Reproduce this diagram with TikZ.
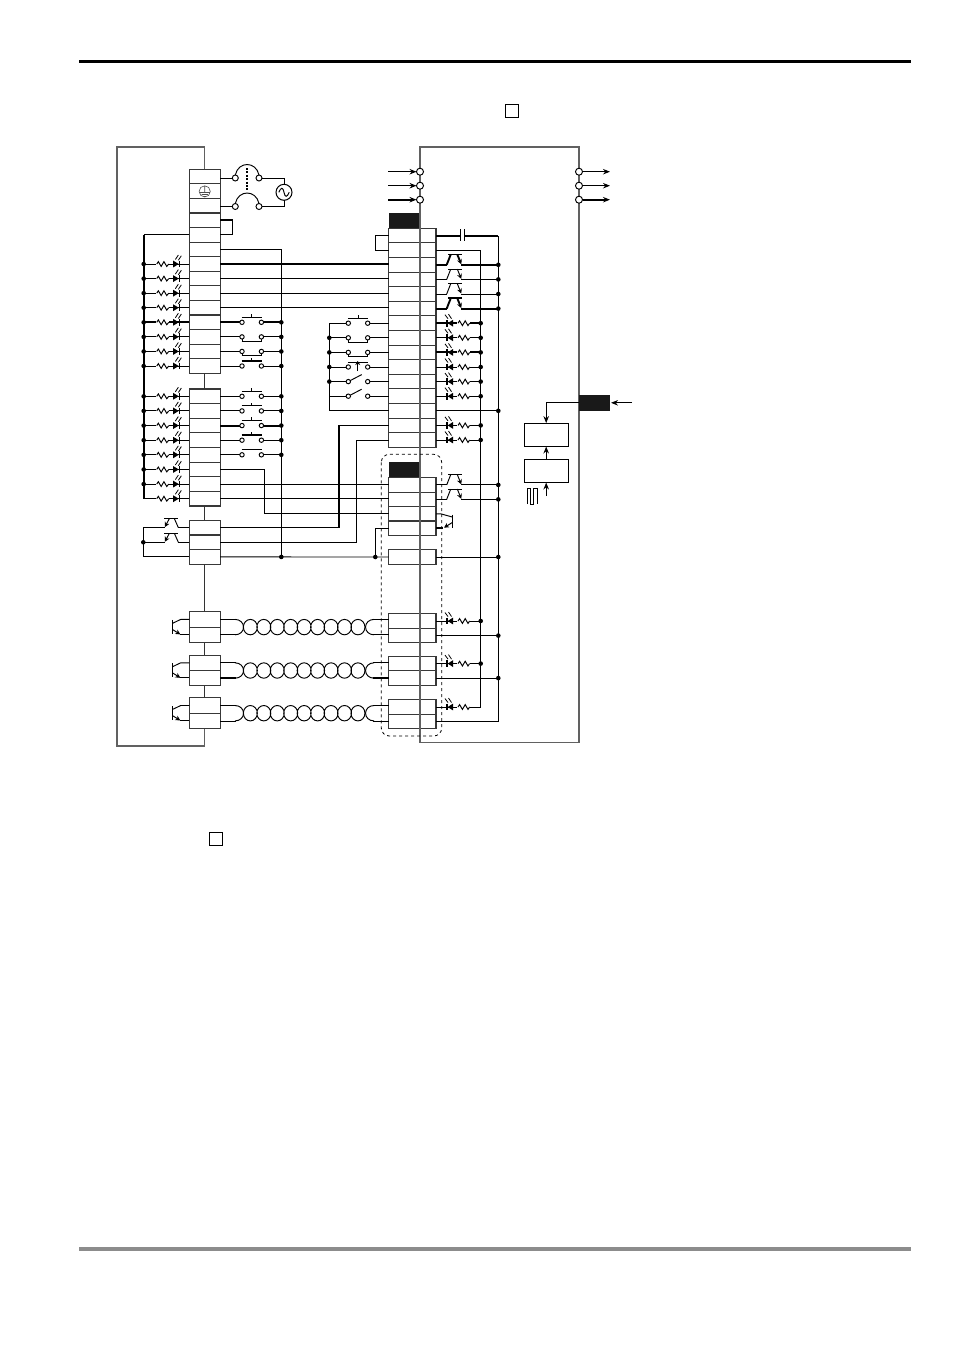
\documentclass[tikz,border=0pt]{standalone}
\usetikzlibrary{arrows.meta}

\tikzset{
  cell/.style={draw=black!78,line width=1.1pt,minimum width=30.7pt,minimum height=14.6pt,inner sep=0pt,outer sep=0pt},
  rcell/.style={cell,minimum width=47.3pt},
  bcell/.style={cell,minimum height=15.4pt},
  head/.style={draw=black!90,fill=black!90,minimum width=31.3pt,minimum height=15.2pt,inner sep=0pt,outer sep=0pt},
  panel/.style={draw=black,line width=1pt,minimum width=44.3pt,minimum height=23.4pt,inner sep=0pt,outer sep=0pt},
  dot/.style={circle,fill=black,minimum size=4.6pt,inner sep=0pt,outer sep=0pt},
  port/.style={circle,draw=black,fill=white,line width=.95pt,minimum size=7pt,inner sep=0pt,outer sep=0pt},
  chk/.style={draw=black,line width=.95pt,minimum size=13pt,inner sep=0pt},
  wire/.style={line width=.95pt},
  bar/.style={line width=1.9pt},
  housing/.style={draw=black!62,line width=1.5pt},
  minitip/.style={-{Stealth[length=5pt,width=5pt]}},
  ledl/.pic={
    \fill[white] (-33,-1.5) rectangle (-20,1.5);
    \draw (-32.6,0) -- (-31,-2.4) -- (-28.2,2.4) -- (-25.4,-2.4) -- (-22.6,2.4) -- (-20.6,0);
    \fill (-16.2,-3.4) -- (-16.2,3.4) -- (-10.6,0) -- cycle;
    \draw[line width=1.6pt] (-10,-3.4) -- (-10,3.4);
    \draw[line width=.8pt] (-14,-4.5) -- (-11,-9) (-11,-3.8) -- (-8,-8.3);
  },
  ledr/.pic={
    \fill[white] (21,-1.5) rectangle (34,1.5);
    \draw (22,0) -- (23.6,-2.4) -- (26.4,2.4) -- (29.2,-2.4) -- (32,2.4) -- (33.6,0);
    \fill (17,-3.4) -- (17,3.4) -- (11.7,0) -- cycle;
    \draw[line width=1.6pt] (11.2,-3.4) -- (11.2,3.4);
    \draw[line width=.8pt] (9,-8.5) -- (12,-4.5) (12.5,-9) -- (15.5,-4.5);
  },
  optr/.pic={
    \fill[white] (11,-1.2) rectangle (25,1.2);
    \draw (10.7,0) -- (14.7,-10.2);
    \draw (12,-10.3) -- (26.3,-10.3);
    \draw[minitip] (21.3,-10.3) -- (25.3,-.5);
  },
  optl/.pic={
    \fill[white] (-24.5,-1.2) rectangle (-11,1.2);
    \draw (-25.3,-9) -- (-11.3,-9);
    \draw (-15,-9) -- (-11,0);
    \draw[minitip] (-20,-9) -- (-24.5,-.5);
  },
  txl/.pic={
    \draw (0,0) -- (-8.6,0) -- (-17,4);
    \draw (-17,.5) -- (-17,14.5);
    \draw[minitip] (-17,10) -- (-9,15);
    \draw (-9,15) -- (0,15);
  },
  cno/.pic={
    \fill[white] (0,-1.2) rectangle (19.5,1.2);
    \draw (-.5,-5) -- (20,-5) (9.7,-5) -- (9.7,-8.4);
    \draw[wire,fill=white] (0,0) circle (2.2) (19.4,0) circle (2.2);
  },
  cnb/.pic={
    \fill[white] (0,-1.2) rectangle (19.5,1.2);
    \draw (-.5,-5) -- (20,-5);
    \draw[wire,fill=white] (0,0) circle (2.2) (19.4,0) circle (2.2);
  },
  cnc/.pic={
    \fill[white] (0,-1.2) rectangle (19.5,1.2);
    \draw (-.5,4.2) -- (20,4.2);
    \draw[wire] (0,0) -- (0,4.2) (19.4,0) -- (19.4,4.2);
    \draw[wire,fill=white] (0,0) circle (2.2) (19.4,0) circle (2.2);
  },
  copen/.pic={
    \fill[white] (0,-1.2) rectangle (19.5,1.2);
    \draw (0,0) -- (13.4,-7);
    \draw[wire,fill=white] (0,0) circle (2.2) (19.4,0) circle (2.2);
  },
  coil/.pic={
    \fill[white] (16,-1.4) rectangle (153,16.8);
    \draw (15,0) .. controls (20,0) and (23.5,3.5) .. (23.5,7.7) .. controls (23.5,11.9) and (20,15.4) .. (15,15.4);
    \draw (154,0) .. controls (149,0) and (145.5,3.5) .. (145.5,7.7) .. controls (145.5,11.9) and (149,15.4) .. (154,15.4);
    \draw (30.3,7.7) ellipse (7 and 7.7) (43.75,7.7) ellipse (7 and 7.7) (57.2,7.7) ellipse (7 and 7.7)
      (70.65,7.7) ellipse (7 and 7.7) (84.1,7.7) ellipse (7 and 7.7) (97.55,7.7) ellipse (7 and 7.7)
      (111,7.7) ellipse (7 and 7.7) (124.45,7.7) ellipse (7 and 7.7) (137.9,7.7) ellipse (7 and 7.7);
  }
}

% one wire from a cell to a bus line, ending in a dot
\newcommand{\tape}[3][]{\draw[wire,#1] (#2.east) -- (#2.east -| #3) node (#2d) [dot] {};}
\newcommand{\tapw}[3][]{\draw[wire,#1] (#2.west) -- (#2.west -| #3) node (#2d) [dot] {};}
\newcommand{\lledrow}[2][]{\tapw[#1]{#2}{bl} \path (#2.west) pic[wire] {ledl};}
\newcommand{\rledrow}[2][]{\tape[#1]{#2}{ct} \path (#2.east) pic[wire] {ledr};}
\newcommand{\rtxrow}[2][]{\tape[#1]{#2}{cm} \path (#2.east) pic[wire,#1] {optr};}

\begin{document}
\begin{tikzpicture}[x=1pt,y=-1pt,>={Stealth[length=7pt,width=5.5pt]}]
\useasboundingbox (0,0) rectangle (954,1350);

\draw[line width=3pt] (79,61) -- (911,61);
\draw[black!45,line width=4pt] (79,1248.5) -- (911,1248.5);
\node (chka) [chk] at (512,111) {};
\node (chkb) [chk] at (216,839) {};

% bus positions
\coordinate (bl) at (143.7,0);
\coordinate (tb) at (143.3,0);
\coordinate (comm) at (281.3,0);
\coordinate (kl) at (242,0);
\coordinate (sw) at (329.3,0);
\coordinate (kr) at (348.3,0);
\coordinate (ja) at (339,0);
\coordinate (jb) at (356.3,0);
\coordinate (ct) at (480.7,0);
\coordinate (cm) at (498.3,0);

% left terminal blocks
\path (204.7,176.6)
    node (la1) [cell] {} ++(0,14.57)
    node (la2) [cell] {} ++(0,14.57)
    node (la3) [cell] {} ++(0,14.57)
    node (la4) [cell] {} ++(0,14.57)
    node (la5) [cell] {} ++(0,14.57)
    node (la6) [cell] {} ++(0,14.57)
    node (la7) [cell] {} ++(0,14.57)
    node (la8) [cell] {} ++(0,14.57)
    node (la9) [cell] {} ++(0,14.57)
    node (la10) [cell] {} ++(0,14.57)
    node (la11) [cell] {} ++(0,14.57)
    node (la12) [cell] {} ++(0,14.57)
    node (la13) [cell] {} ++(0,14.57)
    node (la14) [cell] {};
\path (204.7,396.3)
    node (lb1) [cell] {} ++(0,14.63)
    node (lb2) [cell] {} ++(0,14.63)
    node (lb3) [cell] {} ++(0,14.63)
    node (lb4) [cell] {} ++(0,14.63)
    node (lb5) [cell] {} ++(0,14.63)
    node (lb6) [cell] {} ++(0,14.63)
    node (lb7) [cell] {} ++(0,14.63)
    node (lb8) [cell] {};
\path (204.7,527.6)
    node (lc1) [cell] {} ++(0,14.67)
    node (lc2) [cell] {} ++(0,14.67)
    node (lc3) [cell] {};
\path (204.7,619.4) node (lm1) [bcell] {} ++(0,15.4) node (lm2) [bcell] {};
\path (204.7,662.8) node (ln1) [bcell] {} ++(0,15.2) node (ln2) [bcell] {};
\path (204.7,705.5) node (lp1) [bcell] {} ++(0,15.5) node (lp2) [bcell] {};

% right terminal blocks
\node (rh) [head] at (404.35,220.8) {};
\path (412.35,235.6)
    node (ra1) [rcell] {} ++(0,14.6)
    node (ra2) [rcell] {} ++(0,14.6)
    node (ra3) [rcell] {} ++(0,14.6)
    node (ra4) [rcell] {} ++(0,14.6)
    node (ra5) [rcell] {} ++(0,14.6)
    node (ra6) [rcell] {} ++(0,14.6)
    node (ra7) [rcell] {} ++(0,14.6)
    node (ra8) [rcell] {} ++(0,14.6)
    node (ra9) [rcell] {} ++(0,14.6)
    node (ra10) [rcell] {} ++(0,14.6)
    node (ra11) [rcell] {} ++(0,14.6)
    node (ra12) [rcell] {} ++(0,14.6)
    node (ra13) [rcell] {} ++(0,14.6)
    node (ra14) [rcell] {} ++(0,14.6)
    node (ra15) [rcell] {};
\node (rgh) [head] at (404.35,470) {};
\path (412.35,484.9)
    node (rg1) [rcell] {} ++(0,14.45)
    node (rg2) [rcell] {} ++(0,14.45)
    node (rg3) [rcell] {} ++(0,14.45)
    node (rg4) [rcell] {};
\node (rk) [rcell] at (412.35,557) {};
\path (412.35,621) node (rm1) [rcell] {} ++(0,14.6) node (rm2) [rcell] {};
\path (412.35,663.6) node (rn1) [rcell] {} ++(0,14.5) node (rn2) [rcell] {};
\path (412.35,707) node (rp1) [rcell] {} ++(0,14.6) node (rp2) [rcell] {};

% housings and the links between blocks
\draw[housing] (la1.north) |- (117,147) -- (117,746) -| (lp2.south);
\draw[housing] (420,742.3) rectangle (579,147);
\draw[wire,black!80] (la14.south) -- (lb1.north);
\draw[wire,black!80] (lb8.south) -- (lc1.north);
\draw[wire,black!80] (lc3.south) -- (lm1.north);
\draw[wire,black!80] (lm2.south) -- (ln1.north);
\draw[wire,black!80] (ln2.south) -- (lp1.north);
\draw[dashed,line width=.8pt,rounded corners=8pt] (381.3,454.3) rectangle (441.7,736);

% mains
\node (bra) [port,minimum size=6pt] at (235.3,178) {};
\node (brb) [port,minimum size=6pt] at (259,178) {};
\node (brc) [port,minimum size=6pt] at (235.3,206.5) {};
\node (brd) [port,minimum size=6pt] at (259,206.5) {};
\node (acs) [circle,draw,line width=1pt,minimum size=16pt,inner sep=0pt,outer sep=0pt] at (284,192.3) {};
\draw[wire] (bra -| la1.east) -- (bra);
\draw[wire] (brc -| la3.east) -- (brc);
\draw[wire] (bra.north) .. controls +(3,-14) and +(-3,-14) .. (brb.north);
\draw[wire] (brc.north) .. controls +(3,-14) and +(-3,-14) .. (brd.north);
\draw[wire] (brb) -| (acs.north);
\draw[wire] (brd) -| (acs.south);
\draw[line width=1.5pt,dash pattern=on 2pt off 1.4pt] (247,168) -- (247,191);
\draw[wire] (278.8,192.3) .. controls (281,187) and (283,187) .. (284,192.3) .. controls (285,197.6) and (287,197.6) .. (289.2,192.3);
\draw[black!70,line width=.6pt] (204.7,191.4) circle (5.6) (204.7,186) -- (204.7,192.5)
    (199.5,192.5) -- (209.9,192.5) (201.5,194.5) -- (207.9,194.5) (203.3,196.3) -- (206.1,196.3);
\draw[bar] (la4.east) -- ++(12.6,0);
\draw[wire] (la4.east) ++(12.6,0) |- (la5.east);
\draw[wire] (ra1.west) -- ++(-13,0) |- (ra2.west);

% left LED rows and their common bar
\draw[wire] (la5.west) -- (la5.west -| bl);
\draw[bar] (la5.west -| bl) -- (lb8.west -| bl);
\lledrow{la7}
\lledrow{la8}
\lledrow{la9}
\lledrow{la10}
\lledrow[bar]{la11}
\lledrow{la12}
\lledrow{la13}
\lledrow{la14}
\lledrow{lb1}
\lledrow{lb2}
\lledrow{lb3}
\lledrow{lb4}
\lledrow{lb5}
\lledrow{lb6}
\lledrow{lb7}
\draw[wire] (lb8.west) -- (lb8.west -| bl);
\path (lb8.west) pic[wire] {ledl};

% left output transistors
\draw[wire] (lc1.west) -| (lc3.west -| tb) -- (lc3.west);
\draw[wire] (lc2.west) -- (lc2.west -| tb) node (ltd) [dot] {};
\path (lc1.west) pic[wire] {optl};
\path (lc2.west) pic[wire] {optl};

% push buttons to the common line
\draw[wire] (la6.east) -| (lc3.east -| comm) node (lcd) [dot] {};
\tape[bar]{la11}{comm}
\tape{la12}{comm}
\tape{la13}{comm}
\tape{la14}{comm}
\tape{lb1}{comm}
\tape{lb2}{comm}
\tape[bar]{lb3}{comm}
\tape{lb4}{comm}
\tape{lb5}{comm}
\path (la11.east -| kl) pic[line width=1.3pt] {cno};
\path (la12.east -| kl) pic[wire] {cnc};
\path (la13.east -| kl) pic[wire] {cnc};
\path (la14.east -| kl) pic[line width=1.3pt] {cno};
\path (lb1.east -| kl) pic[wire] {cno};
\path (lb2.east -| kl) pic[wire] {cno};
\path (lb3.east -| kl) pic[line width=1.5pt] {cno};
\path (lb4.east -| kl) pic[line width=1.5pt] {cno};
\path (lb5.east -| kl) pic[wire] {cnb};

% wires across
\draw[bar] (la7.east) -- (la7.east -| ra3.west);
\draw[wire] (la8.east) -- (la8.east -| ra4.west);
\draw[wire] (la9.east) -- (la9.east -| ra5.west);
\draw[wire] (la10.east) -- (la10.east -| ra6.west);
\draw[bar] (lb6.east) -- ++(44.6,0);
\draw[wire] (lb6.east) ++(44.6,0) |- (rg3.west);
\draw[wire] (lb7.east) -- (lb7.east -| rg1.west);
\draw[wire] (lb8.east) -- (lb8.east -| rg2.west);
\draw[wire] (lc1.east) -- (lc1.east -| ja) |- (ra14.west);
\draw[bar] (lc1.east -| ja) -- (ra14.west -| ja);
\draw[wire] (lc2.east) -- (lc2.east -| jb) |- (ra15.west);
\draw[wire] (lc3.east) -- (rk.west);
\node (jn) [dot] at (375.3,557) {};
\draw[wire] (jn) |- (rg4.west);

% switches on the right block
\draw[wire] (ra13.west) -| (ra7.west -| sw) -- (ra7.west);
\tapw{ra8}{sw}
\tapw{ra9}{sw}
\tapw{ra10}{sw}
\tapw{ra11}{sw}
\draw[wire] (ra12.west) -- (ra12.west -| sw);
\path (ra7.west -| kr) pic[wire] {cno};
\path (ra8.west -| kr) pic[wire] {cnc};
\path (ra9.west -| kr) pic[wire] {cnc};
\path (ra10.west -| kr) pic[wire] {cnb};
\path (ra11.west -| kr) pic[wire] {copen};
\path (ra12.west -| kr) pic[wire] {copen};
\draw[line width=1.4pt,-{Stealth[length=4pt,width=5pt]}] (357.7,371) -- (357.7,361);

% right common lines
\draw[wire] (ra2.east) -| (rp1.east -| ct) -- (rp1.east);
\draw[wire] (rp2.east) -| (ra1.east -| cm);
\draw[bar] (ra1.east) -- (ra1.east -| cm);
\fill[white] (461,234) rectangle (464.6,237);
\draw[wire] (460.7,229) -- (460.7,241) (464.7,229) -- (464.7,241);
\rtxrow[bar]{ra3}
\rtxrow{ra4}
\rtxrow{ra5}
\rtxrow[bar]{ra6}
\rledrow[bar]{ra7}
\rledrow{ra8}
\rledrow[bar]{ra9}
\rledrow{ra10}
\rledrow{ra11}
\rledrow{ra12}
\tape{ra13}{cm}
\rledrow{ra14}
\rledrow{ra15}
\rtxrow{rg1}
\rtxrow{rg2}
\tape{rk}{cm}
\rledrow{rm1}
\rledrow{rn1}
\path (rp1.east) pic[wire] {ledr};
\tape{rm2}{cm}
\tape{rn2}{cm}

% transistor at the encoder block
\draw[wire] (rg3.east) -- ++(4.7,0) -- (452.3,517);
\draw[bar] (rg4.east) -- ++(6.5,0);
\draw[wire] (452.3,514.5) -- (452.3,528);
\draw[wire,minitip] (452.3,522.5) -- (444,527.7);

% encoder cables
\draw[wire] (lm1.east) -- (lm1.east -| rm1.west);
\draw[wire] (lm2.east) -- (lm2.east -| rm2.west);
\path (lm1.east) pic[wire] {coil};
\draw[wire] (ln1.east) -- (ln1.east -| rn1.west);
\draw[bar] (ln2.east) -- (ln2.east -| rn2.west);
\path (ln1.east) pic[wire] {coil};
\draw[wire] (lp1.east) -- (lp1.east -| rp1.west);
\draw[wire] (lp2.east) -- (lp2.east -| rp2.west);
\path (lp1.east) pic[wire] {coil};
\path (lm1.west) pic[wire] {txl};
\path (ln1.west) pic[wire] {txl};
\path (lp1.west) pic[wire] {txl};

% supply terminals
\node (pa) [port] at (420,171.7) {};
\node (pb) [port] at (420,185.7) {};
\node (pc) [port] at (420,199.7) {};
\node (qa) [port] at (579,171.7) {};
\node (qb) [port] at (579,185.7) {};
\node (qc) [port] at (579,199.7) {};
\coordinate (ina) at (388,171.7);
\coordinate (inb) at (388,185.7);
\coordinate (inc) at (388,199.7);
\coordinate (outa) at (610,171.7);
\coordinate (outb) at (610,185.7);
\coordinate (outc) at (610,199.7);
\draw[->,wire] (ina) -- (pa);
\draw[->,wire] (inb) -- (pb);
\draw[->,bar] (inc) -- (pc);
\draw[->,wire] (qa) -- (outa);
\draw[->,wire] (qb) -- (outb);
\draw[->,bar] (qc) -- (outc);

% analog section
\node (ext) [head,minimum width=30pt,minimum height=15.7pt] at (594,402.8) {};
\node (pnla) [panel] at (546.2,434.8) {};
\node (pnlb) [panel] at (546.2,470.8) {};
\coordinate (ref) at (632,402.8);
\coordinate (pls) at (546.2,496);
\draw[->,wire] (ext.west) -| (pnla.north);
\draw[->,wire] (pnlb.north) -- (pnla.south);
\draw[->,wire] (pls) -- (pnlb.south);
\draw[->,wire,shorten >=2pt] (ref) -- (ext.east);
\draw[line width=1pt] (527,504) |- (530.4,488.7) -- (530.4,504) -- (533.6,504) |- (537,488.7) -- (537,504);
\end{tikzpicture}
\end{document}
